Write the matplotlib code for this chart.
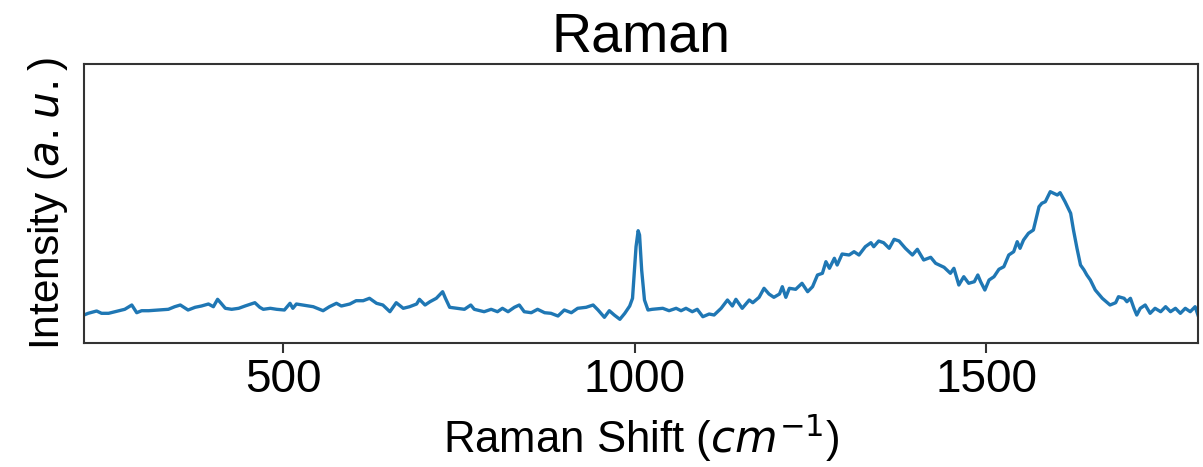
import matplotlib
matplotlib.use('Agg')
import matplotlib.pyplot as plt

plt.rcParams['font.family'] = ['Liberation Sans', 'DejaVu Sans']

# Raman shift (cm^-1) and intensity (a.u.)
shift = [217, 223, 235, 242, 252, 261, 275, 285, 292, 299, 309, 323, 337, 346, 354,
         365, 375, 384, 394, 401, 407, 412, 418, 427, 437, 446, 460, 467, 472, 482,
         491, 502, 510, 514, 519, 528, 543, 557, 566, 576, 583, 595, 604, 614, 623,
         633, 642, 652, 661, 671, 680, 690, 694, 702, 709, 718, 727, 731, 737, 747,
         758, 767, 772, 786, 796, 805, 812, 820, 829, 836, 843, 853, 862, 872, 881,
         891, 900, 910, 919, 931, 941, 948, 957, 964, 971, 979, 986, 993, 997, 1002,
         1005, 1007, 1010, 1014, 1019, 1025, 1040, 1049, 1059, 1066, 1073, 1082, 1089,
         1097, 1106, 1113, 1123, 1132, 1139, 1144, 1153, 1163, 1168, 1177, 1184, 1191,
         1198, 1206, 1210, 1215, 1220, 1229, 1238, 1246, 1253, 1260, 1267, 1272, 1277,
         1284, 1288, 1295, 1305, 1312, 1319, 1328, 1336, 1340, 1347, 1354, 1362, 1369,
         1376, 1385, 1395, 1402, 1411, 1421, 1428, 1440, 1449, 1454, 1461, 1468, 1475,
         1483, 1488, 1492, 1498, 1504, 1511, 1518, 1525, 1532, 1539, 1544, 1548, 1553,
         1560, 1567, 1575, 1579, 1584, 1591, 1596, 1601, 1605, 1612, 1620, 1624, 1629,
         1634, 1639, 1643, 1648, 1655, 1665, 1676, 1684, 1688, 1696, 1700, 1705, 1710,
         1714, 1719, 1726, 1733, 1740, 1748, 1755, 1762, 1769, 1776, 1783, 1790, 1797,
         1801]
intensity = [28.0, 29.7, 32.0, 29.7, 29.7, 31.3, 33.7, 38.0, 30.3, 32.3, 32.3, 33.0, 33.7,
             36.3, 38.0, 33.0, 35.7, 37.0, 39.0, 36.3, 43.7, 39.7, 34.7, 33.7, 34.7, 37.0,
             40.3, 35.7, 33.7, 34.7,
             33.7, 33.0, 39.7, 34.7, 39.0, 38.0, 36.3, 32.3, 36.3, 39.7, 37.0, 39.0, 42.3,
             42.3, 44.7, 39.7, 38.0, 31.3, 40.3, 34.7, 36.3, 39.0, 43.7, 38.0, 41.3, 44.7,
             51.3, 44.7, 35.7, 34.7,
             33.7, 38.0, 33.7, 31.3, 33.7, 31.3, 34.7, 31.3, 35.7, 38.0, 31.3, 30.3, 33.7,
             30.3, 29.7, 27.0, 33.0, 30.3, 34.7, 35.7, 38.0, 33.0, 25.7, 32.3, 28.0, 23.7,
             29.7, 37.0, 44.7, 96.3, 112.3, 108.0, 73.0, 43.0, 33.0,
             33.7, 34.7, 32.3, 34.7, 32.3, 34.7, 31.3, 33.7, 26.3, 29.0, 28.0, 34.7, 43.0,
             37.0, 43.7, 34.7, 43.0, 40.3, 45.7, 54.7, 49.0, 45.7, 49.0, 56.3, 45.7, 54.7,
             53.7, 59.7, 51.3, 56.3, 68.0, 69.7, 81.3, 74.7, 84.7,
             78.0, 89.0, 88.0, 91.3, 88.0, 96.3, 100.3, 96.3, 102.0, 100.3, 94.7, 103.7,
             102.0, 94.7, 88.0, 93.7, 83.0, 85.7, 79.7, 75.7, 69.7, 74.7, 58.0, 66.3, 59.7,
             61.3, 68.0, 61.3, 53.0, 63.0, 66.3, 73.7, 76.3, 88.0, 91.3, 101.3, 94.7,
             103.0, 109.7, 113.0, 136.3, 139.7, 141.3, 151.3, 149.7, 148.0, 150.3, 141.3,
             129.7, 113.0, 94.7, 78.0, 73.0, 68.0, 63.0, 53.0, 44.7, 38.0, 40.3, 46.3,
             44.7, 41.3, 44.7, 34.7, 28.0, 34.7, 38.0, 29.7, 34.7, 31.3, 36.3, 31.3, 34.7,
             29.7, 34.7, 31.3, 36.3, 28.0]

fig = plt.figure(figsize=(12.03, 4.67), dpi=100)
ax = fig.add_axes([0.0698, 0.2655, 0.926, 0.5975])

ax.plot(shift, intensity, color='#1f77b4', lw=2.4)
ax.set_xlim(shift[0], shift[-1])
ax.set_ylim(0, 279)
ax.set_xticks([500, 1000, 1500])
ax.set_yticks([])

ax.set_title('Raman', fontsize=40, pad=5)
ax.set_xlabel('Raman Shift ($cm^{-1}$)', fontsize=31.5, labelpad=6)
ax.set_ylabel('Intensity ($a.u.$)', fontsize=30.5, labelpad=10)
ax.tick_params(axis='x', labelsize=33, length=7, width=1.5, color='#333333', pad=4)
for s in ax.spines.values():
    s.set_linewidth(1.5)
    s.set_color('#333333')

fig.savefig('out.png', dpi=100)
